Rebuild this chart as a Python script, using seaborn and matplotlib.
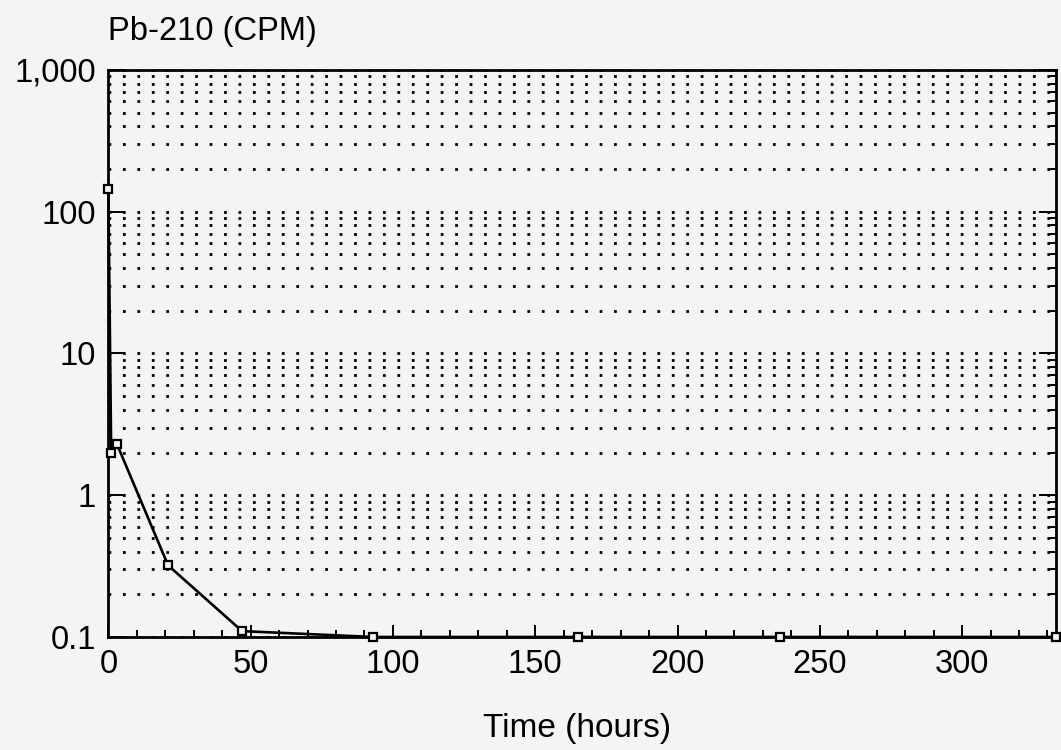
import numpy as np
import pandas as pd
import matplotlib
matplotlib.use("Agg")
import matplotlib.pyplot as plt
from matplotlib.ticker import FixedLocator, LogLocator, MultipleLocator, NullFormatter
import seaborn as sns

# Pb-210 activity over time
time_hours = [0, 1, 3, 21, 47, 93, 165, 236, 333]
pb210_cpm = [145, 2.0, 2.3, 0.32, 0.11, 0.10, 0.10, 0.10, 0.10]

y_ticks = [0.1, 1, 10, 100, 1000]
y_tick_labels = ["0.1", "1", "10", "100", "1,000"]
x_ticks = [0, 50, 100, 150, 200, 250, 300]

sns.set_style("white")
plt.rcParams["font.family"] = ["Liberation Sans", "DejaVu Sans"]
plt.rcParams["text.color"] = "black"

bg = "#f4f4f4"
fig = plt.figure(figsize=(10.61, 7.5), dpi=100, facecolor=bg)
ax = fig.add_axes([0.1021, 0.1507, 0.8932, 0.7560])
ax.set_facecolor(bg)

df = pd.DataFrame({"Time": time_hours, "CPM": pb210_cpm})
sns.lineplot(data=df, x="Time", y="CPM", ax=ax, color="black", linewidth=1.9,
             marker="s", markersize=6, markerfacecolor=bg,
             markeredgecolor="black", markeredgewidth=1.6, clip_on=False,
             zorder=5)

ax.set_yscale("log")
ax.set_ylim(0.1, 1000)
ax.set_xlim(0, 333)

ax.yaxis.set_major_locator(FixedLocator(y_ticks))
ax.set_yticklabels(y_tick_labels)
ax.yaxis.set_minor_locator(LogLocator(base=10, subs=np.arange(2, 10)))
ax.yaxis.set_minor_formatter(NullFormatter())

ax.xaxis.set_major_locator(FixedLocator(x_ticks))
ax.xaxis.set_minor_locator(MultipleLocator(10))

# dotted horizontal grid at every decade and sub-decade
ax.grid(True, which="both", axis="y", color="black",
        linestyle=(0, (1, 4.2)), linewidth=2.0)
ax.grid(False, axis="x", which="both")

ax.tick_params(axis="both", which="both", direction="in", colors="black",
               labelsize=23.5, width=1.4)
ax.tick_params(axis="y", which="major", left=True, right=True, length=12, pad=9)
ax.tick_params(axis="y", which="minor", left=False, right=True, length=4)
ax.tick_params(axis="x", which="major", bottom=True, length=9, pad=9)
ax.tick_params(axis="x", which="minor", bottom=True, length=5)

for side in ["left", "right", "top", "bottom"]:
    ax.spines[side].set_visible(True)
    ax.spines[side].set_color("black")
    ax.spines[side].set_linewidth(2.0)

ax.set_xlabel("")
ax.set_ylabel("")

fig.text(108 / 1061, 1 - 40 / 750, "Pb-210 (CPM)", fontsize=23.5,
         color="black", ha="left", va="baseline")
fig.text(577 / 1061, 1 - 737 / 750, "Time (hours)", fontsize=24,
         color="black", ha="center", va="baseline")

fig.savefig("out.png", dpi=100, facecolor=bg)
